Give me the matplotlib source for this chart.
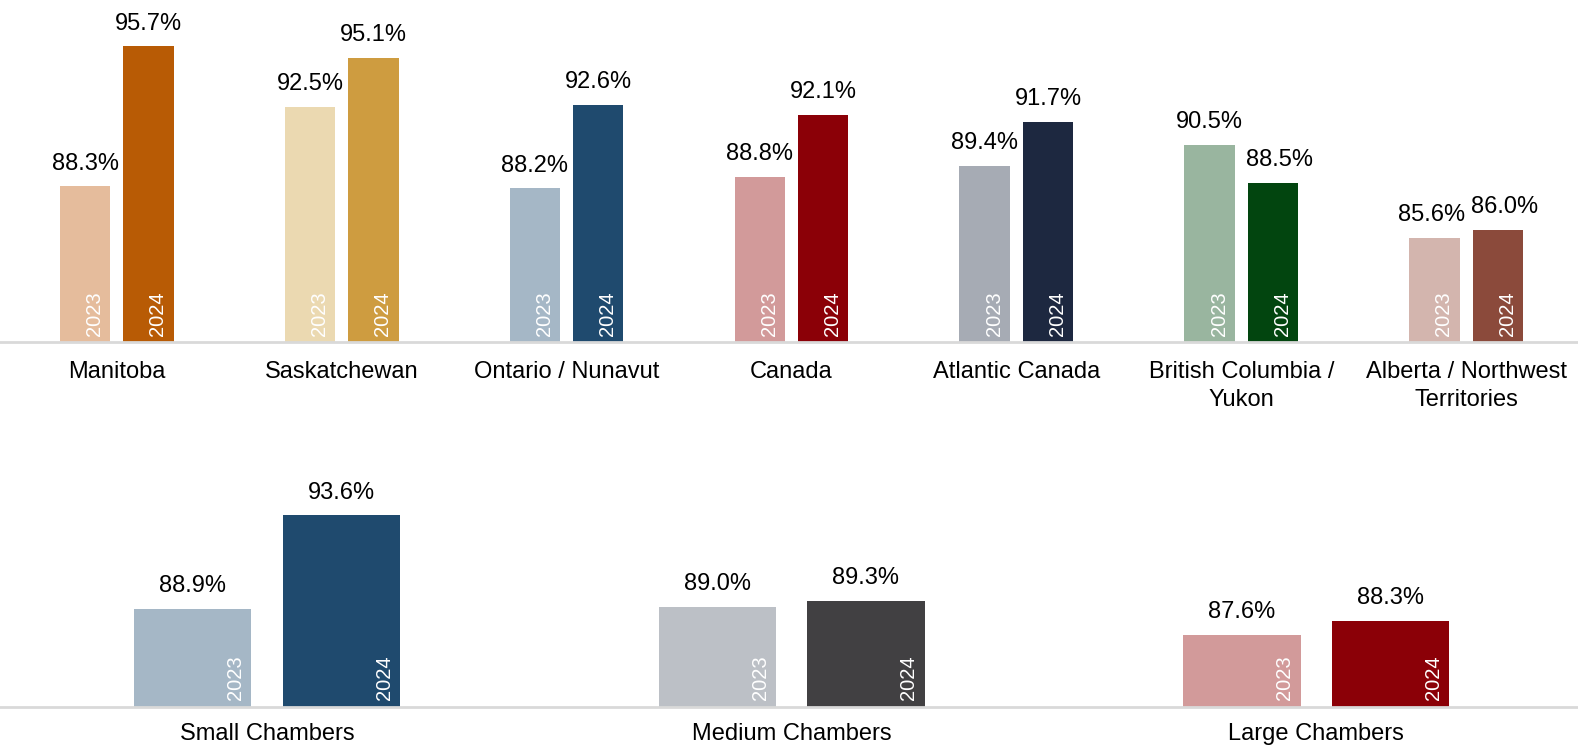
import numpy as np
import matplotlib
matplotlib.use("Agg")
import matplotlib.pyplot as plt

plt.rcParams["font.family"] = ["Liberation Sans", "DejaVu Sans"]

# regions (top panel)
regions = ["Manitoba", "Saskatchewan", "Ontario / Nunavut", "Canada",
           "Atlantic Canada", "British Columbia /\nYukon",
           "Alberta / Northwest\nTerritories"]
region_2023 = [88.3, 92.5, 88.2, 88.8, 89.4, 90.5, 85.6]
region_2024 = [95.7, 95.1, 92.6, 92.1, 91.7, 88.5, 86.0]
region_light = ["#E5BC9C", "#EBD9B1", "#A5B7C6", "#D29A9A", "#A6ABB4", "#99B59F", "#D3B5AE"]
region_dark = ["#B85B05", "#CE9C40", "#1F4A6E", "#8B0007", "#1D2840", "#02450F", "#8B4A3B"]

# chamber sizes (bottom panel)
sizes = ["Small Chambers", "Medium Chambers", "Large Chambers"]
size_2023 = [88.9, 89.0, 87.6]
size_2024 = [93.6, 89.3, 88.3]
size_light = ["#A5B7C6", "#BCC0C6", "#D29A9A"]
size_dark = ["#1F4A6E", "#414042", "#8B0007"]

years = ["2023", "2024"]


def draw(ax, cats, v23, v24, c_light, c_dark, xlim, ylim, width, off, pad, nudge=False):
    x = np.arange(len(cats))
    ymin = ylim[0]
    for vals, cols, sign, yr in [(v23, c_light, -1, years[0]), (v24, c_dark, 1, years[1])]:
        xs = x + sign * off
        ax.bar(xs, np.array(vals) - ymin, width, bottom=ymin, color=cols)
        for i, (xi, v) in enumerate(zip(xs, vals)):
            dx = 0
            # keep neighbouring labels apart when the two values are close
            if nudge and v24[i] - v23[i] < 1:
                dx = 5 if sign > 0 else (-2 if abs(v24[i] - v23[i]) < 1 else 0)
            ax.annotate(f"{v:.1f}%", xy=(xi, v), xytext=(dx, 12), textcoords="offset points",
                        ha="center", va="baseline", fontsize=17)
            ax.annotate(yr, xy=(xi + width / 2, ymin), xytext=(-4.5, 4.5),
                        textcoords="offset points", rotation=90, ha="right", va="bottom",
                        fontsize=14.5, color="white")
    ax.set_xlim(*xlim)
    ax.set_ylim(*ylim)
    ax.set_xticks(x)
    ax.set_xticklabels(cats, fontsize=17, linespacing=1.35)
    ax.tick_params(axis="x", length=0, pad=pad)
    ax.set_yticks([])
    for s in ["top", "right", "left"]:
        ax.spines[s].set_visible(False)
    ax.spines["bottom"].set_color("#D9D9D9")
    ax.spines["bottom"].set_linewidth(2)


fig = plt.figure(figsize=(15.78, 7.48), dpi=100)
ax1 = fig.add_axes([0, 0.5424, 1, 0.4576])
ax2 = fig.add_axes([0, 0.0552, 1, 0.3198])

draw(ax1, regions, region_2023, region_2024, region_light, region_dark,
     (-0.519, 6.497), (80.07, 98.15), 0.224, 0.141, 13.5, nudge=True)
draw(ax2, sizes, size_2023, size_2024, size_light, size_dark,
     (-0.509, 2.499), (84, 96), 0.224, 0.1416, 12)

fig.savefig("out.png", dpi=100)
